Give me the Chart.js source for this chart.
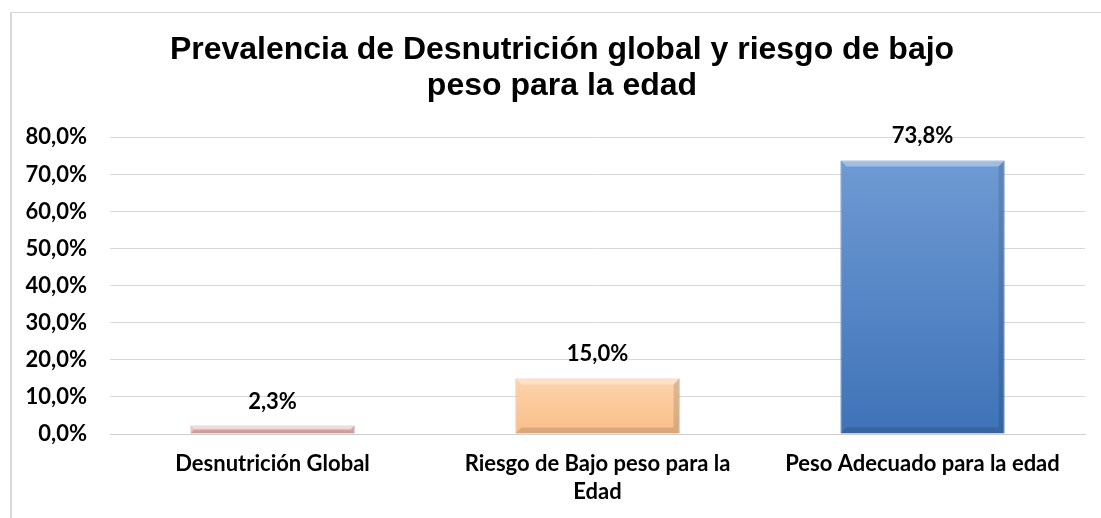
<!DOCTYPE html>
<html>
<head>
<meta charset="utf-8">
<script src="https://cdn.jsdelivr.net/npm/chart.js@4.4.0/dist/chart.umd.min.js"></script>
<style>
    html, body { margin: 0; padding: 0; background: #fff; overflow: hidden; }
    #wrap { position: relative; width: 1101px; height: 518px; }
    #frame { position: absolute; left: 10px; top: 12px; width: 1100px; height: 520px; border: 1px solid #d9d9d9; border-left-width: 2px; }
    canvas { position: absolute; left: 0; top: 0; }
</style>
</head>
<body>
<div id="wrap">
    <div id="frame"></div>
    <canvas id="bmiChart" width="1101" height="518"></canvas>
</div>
<script>
// Chart data
const titleLines = ['Prevalencia de Desnutrición global y riesgo de bajo', 'peso para la edad'];
const categories = [['Desnutrición Global'], ['Riesgo de Bajo peso para la', 'Edad'], ['Peso Adecuado para la edad']];
const values = [2.3, 15.0, 73.8];
const yTicks = [0, 10, 20, 30, 40, 50, 60, 70, 80];

// Fill colours per bar: [top, bottom, border]
const barShades = [
    ['#efcfce', '#e3aeac', '#cf9694'],
    ['#fdd3ab', '#f9be89', '#e0a470'],
    ['#6f9ad3', '#3e73b8', '#3a6aa8']
];

const fmt = v => v.toFixed(1).replace('.', ',') + '%';
const labelFamily = 'Lato, "Open Sans", sans-serif';
const labelFont = { family: labelFamily, size: 22, weight: 'bold' };

function barFill(ctx) {
    const i = ctx.dataIndex;
    const chart = ctx.chart;
    const area = chart.chartArea;
    const y = chart.scales.y;
    if (!area || !y) return barShades[i][1];
    const top = y.getPixelForValue(values[i]);
    const bottom = y.getPixelForValue(0);
    if (!isFinite(top) || !isFinite(bottom)) return barShades[i][1];
    const g = chart.ctx.createLinearGradient(0, top, 0, bottom);
    g.addColorStop(0, barShades[i][0]);
    g.addColorStop(1, barShades[i][1]);
    return g;
}

// title sits a little right of the canvas centre
const titleShift = {
    id: 'titleShift',
    afterLayout(chart) {
        if (chart.titleBlock) chart.titleBlock.left = 39;
    }
};

// value labels above each bar
const valueLabels = {
    id: 'valueLabels',
    afterDatasetsDraw(chart) {
        const c = chart.ctx;
        const meta = chart.getDatasetMeta(0);
        c.save();
        c.font = `bold ${labelFont.size}px ${labelFamily}`;
        c.fillStyle = '#000';
        c.textAlign = 'center';
        c.textBaseline = 'middle';
        meta.data.forEach((bar, i) => {
            c.fillText(fmt(values[i]), bar.x, bar.y - 24);
        });
        c.restore();
    }
};

// soft bevel highlight along the bar edges
const bevel = {
    id: 'bevel',
    afterDatasetsDraw(chart) {
        const c = chart.ctx;
        chart.getDatasetMeta(0).data.forEach(bar => {
            const w = bar.width, x0 = bar.x - w / 2, y0 = bar.y, h = bar.base - bar.y;
            const e = Math.min(6, h / 2);
            c.save();
            c.fillStyle = 'rgba(255,255,255,0.35)';
            c.beginPath();
            c.moveTo(x0, y0); c.lineTo(x0 + w, y0); c.lineTo(x0 + w - e, y0 + e); c.lineTo(x0 + e, y0 + e);
            c.closePath(); c.fill();
            c.fillStyle = 'rgba(0,0,0,0.12)';
            c.beginPath();
            c.moveTo(x0 + w, y0); c.lineTo(x0 + w, y0 + h); c.lineTo(x0 + w - e, y0 + h - e); c.lineTo(x0 + w - e, y0 + e);
            c.closePath(); c.fill();
            c.beginPath();
            c.moveTo(x0, y0 + h); c.lineTo(x0 + w, y0 + h); c.lineTo(x0 + w - e, y0 + h - e); c.lineTo(x0 + e, y0 + h - e);
            c.closePath(); c.fill();
            c.restore();
        });
    }
};

new Chart(document.getElementById('bmiChart'), {
    type: 'bar',
    data: {
        labels: categories,
        datasets: [{
            data: values,
            backgroundColor: barFill,
            borderColor: barShades.map(s => s[2]),
            borderWidth: 1,
            categoryPercentage: 1,
            barPercentage: 0.505
        }]
    },
    options: {
        responsive: false,
        animation: false,
        layout: { padding: { top: 0, right: 16, bottom: 0, left: 0 } },
        plugins: {
            legend: { display: false },
            tooltip: { enabled: false },
            title: {
                display: true,
                text: titleLines,
                color: '#000',
                font: { family: '"Liberation Sans", Arial, sans-serif', size: 32, weight: 'bold', lineHeight: 1.1 },
                padding: { top: 33, bottom: 34 }
            }
        },
        scales: {
            y: {
                min: 0,
                max: 80,
                afterBuildTicks: scale => { scale.ticks = yTicks.map(v => ({ value: v })); },
                afterFit: scale => { scale.width = 110; },
                border: { display: false },
                grid: { color: '#d9d9d9', lineWidth: 1, drawTicks: false },
                ticks: {
                    color: '#000',
                    padding: 23,
                    font: labelFont,
                    callback: v => fmt(v)
                }
            },
            x: {
                afterFit: scale => { scale.height = 84; },
                border: { color: '#d0d0d0' },
                grid: { display: false, drawTicks: false },
                ticks: {
                    color: '#000',
                    padding: 16,
                    font: { family: labelFamily, size: 22, weight: 'bold', lineHeight: 1.27 },
                    maxRotation: 0
                }
            }
        }
    },
    plugins: [titleShift, bevel, valueLabels]
});
</script>
</body>
</html>
